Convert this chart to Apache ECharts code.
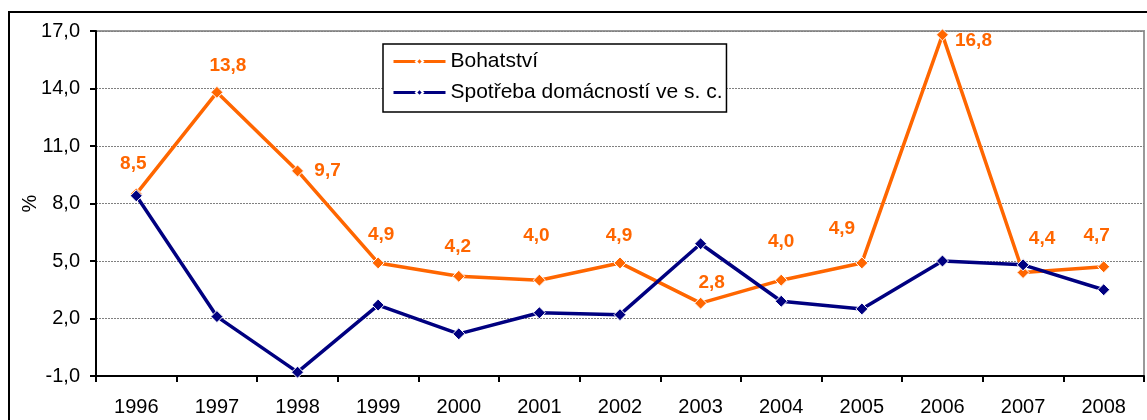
<!DOCTYPE html>
<html>
<head>
<meta charset="utf-8">
<script src="https://cdn.jsdelivr.net/npm/echarts@6/dist/echarts.min.js"></script>
<style>
html,body{margin:0;padding:0;background:#fff;}
#chart{width:1147px;height:420px;}
</style>
</head>
<body>
<div id="chart"></div>
<script>
var categories = ['1996','1997','1998','1999','2000','2001','2002','2003','2004','2005','2006','2007','2008'];
var bohatstvi = [8.5, 13.8, 9.7, 4.9, 4.2, 4.0, 4.9, 2.8, 4.0, 4.9, 16.8, 4.4, 4.7];
var spotreba = [8.4, 2.1, -0.8, 2.7, 1.2, 2.3, 2.2, 5.9, 2.9, 2.5, 5.0, 4.8, 3.5];
var seriesNames = ['Bohatství', 'Spotřeba domácností ve s. c.'];
var yTicks = {min: -1, max: 17, interval: 3};

// label placement (style only), relative to each point
var labelOffsets = [[-3,-30],[11,-27],[30,0],[3,-28],[-1,-30],[-3,-44],[-1,-27],[11,-20],[0,-38],[-20,-34],[31,6],[19,-34],[-7,-31]];

var FONT = '"Liberation Sans", Arial, sans-serif';
var ORANGE = '#FF6600';
var NAVY = '#000080';

function fmt(v){ return Number(v).toFixed(1).replace('.', ','); }

var orangeData = bohatstvi.map(function(v, i){
  return {value: v, label: {offset: labelOffsets[i]}};
});

var chart = echarts.init(document.getElementById('chart'), null, {renderer: 'canvas'});
chart.setOption({
  animation: false,
  backgroundColor: '#fff',
  textStyle: {fontFamily: FONT},
  grid: {left: 96, right: 3, top: 31, bottom: 44, show: true, borderColor: '#999', borderWidth: 2, containLabel: false},
  legend: {
    orient: 'vertical',
    left: 383, top: 44,
    backgroundColor: '#fff',
    borderColor: '#000', borderWidth: 1.5, borderRadius: 0,
    padding: [7, 4, 9, 9],
    itemWidth: 52, itemHeight: 9, itemGap: 10,
    lineStyle: {width: 3},
    textStyle: {fontFamily: FONT, fontSize: 21, color: '#000'},
    data: seriesNames
  },
  xAxis: {
    type: 'category',
    data: categories,
    boundaryGap: true,
    axisLine: {show: true, onZero: false, lineStyle: {color: '#000', width: 2}},
    axisTick: {show: true, length: 6, lineStyle: {color: '#000', width: 2}},
    axisLabel: {color: '#000', fontSize: 20, fontFamily: FONT, margin: 21},
    splitLine: {show: false}
  },
  yAxis: {
    type: 'value',
    min: yTicks.min, max: yTicks.max, interval: yTicks.interval,
    name: '%',
    nameLocation: 'middle',
    nameGap: 56,
    nameMoveOverlap: false,
    nameRotate: 90,
    nameTextStyle: {color: '#000', fontSize: 20, fontFamily: FONT},
    axisLine: {show: true, lineStyle: {color: '#000', width: 2}},
    axisTick: {show: true, length: 6, lineStyle: {color: '#000', width: 2}},
    axisLabel: {color: '#000', fontSize: 20, fontFamily: FONT, margin: 16, formatter: fmt},
    splitLine: {show: true, lineStyle: {color: '#808080', width: 1, type: [2, 1]}}
  },
  series: [
    {
      name: seriesNames[0],
      type: 'line',
      data: orangeData,
      symbol: 'diamond',
      symbolSize: 12,
      lineStyle: {color: ORANGE, width: 3.5},
      itemStyle: {color: ORANGE, borderColor: '#fff', borderWidth: 1},
      label: {
        show: true,
        position: 'inside',
        color: ORANGE,
        fontSize: 19,
        fontWeight: 'bold',
        fontFamily: FONT,
        formatter: function(p){ return fmt(p.value); }
      },
      z: 2
    },
    {
      name: seriesNames[1],
      type: 'line',
      data: spotreba,
      symbol: 'diamond',
      symbolSize: 12,
      lineStyle: {color: NAVY, width: 3.5},
      itemStyle: {color: NAVY, borderColor: '#fff', borderWidth: 1},
      z: 3
    }
  ],
  graphic: [{
    type: 'rect',
    shape: {x: 9, y: 12, width: 1200, height: 500},
    style: {fill: 'none', stroke: '#000', lineWidth: 2},
    silent: true,
    z: 100
  }]
});
</script>
</body>
</html>
